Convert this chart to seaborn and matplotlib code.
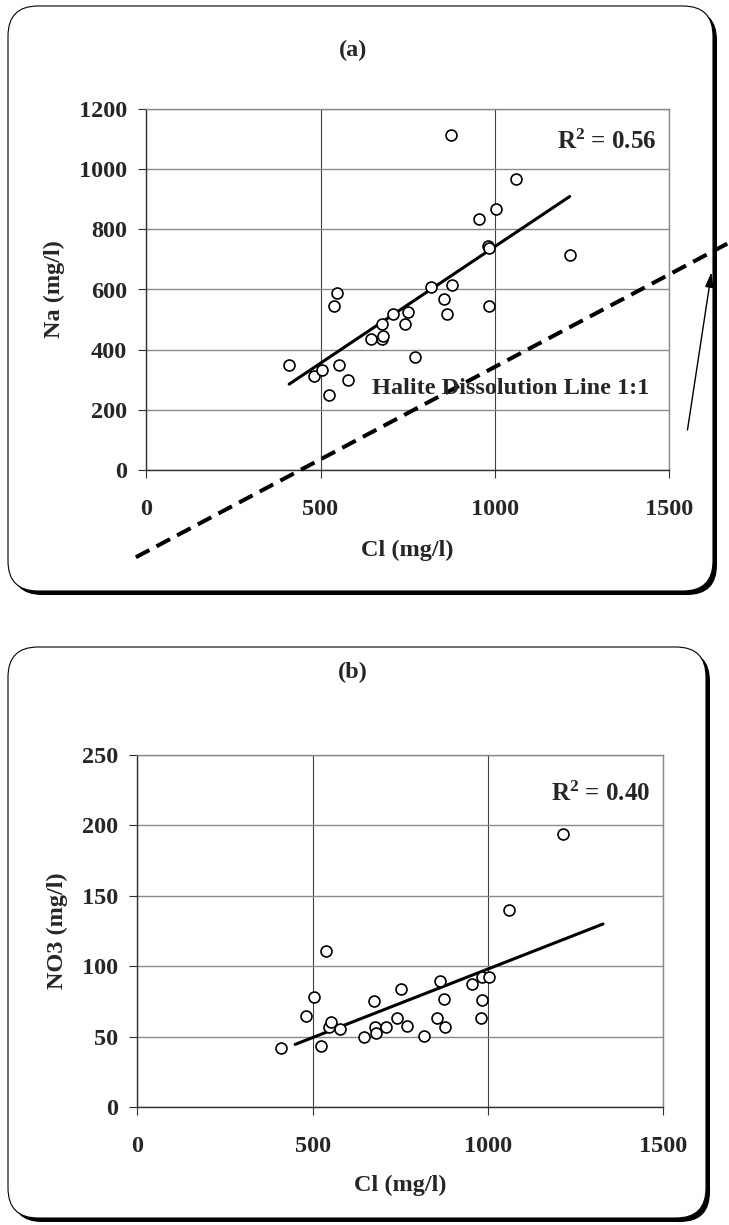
import numpy as np
import matplotlib
matplotlib.use('Agg')
import matplotlib.pyplot as plt
import seaborn as sns
from matplotlib.patches import FancyBboxPatch

# ---------------- data ----------------
cl = [410, 480, 505, 524, 538, 548, 552, 579, 646, 675, 677, 680, 708, 742,
      751, 770, 817, 855, 862, 874, 878, 954, 980, 984, 984, 1004, 1060, 1215]
na = [349, 313, 334, 249, 546, 590, 349, 299, 437, 485, 437, 445, 518, 485,
      524, 376, 607, 568, 518, 1113, 615, 833, 744, 737, 546, 866, 966, 714]
no3 = [42, 64.5, 78, 43, 111, 57, 60, 55, 50, 75, 57, 52.7, 56.5, 63.3,
       83.5, 57.4, 50.4, 63.3, 89.4, 76.4, 56.5, 87, 62.9, 92, 75.9, 92.4, 139.7, 193.6]

halite_x = [-30, 1670]
halite_y = [-290, 754]
arrow_tail = (1553, 133)
arrow_tip = (1622, 658)

x_ticks = [0, 500, 1000, 1500]
na_ticks = [0, 200, 400, 600, 800, 1000, 1200]
no3_ticks = [0, 50, 100, 150, 200, 250]
r2_a = r"R$^{2}$ = 0.56"
r2_b = r"R$^{2}$ = 0.40"
trend_b_x = [450, 1328]

# ---------------- style ----------------
sns.set_style('white')
plt.rcParams['font.family'] = ['Liberation Serif', 'DejaVu Serif']
plt.rcParams['font.weight'] = 'bold'
plt.rcParams['mathtext.fontset'] = 'custom'
plt.rcParams['mathtext.rm'] = 'Liberation Serif:bold'
plt.rcParams['mathtext.it'] = 'Liberation Serif:bold'
plt.rcParams['mathtext.bf'] = 'Liberation Serif:bold'
plt.rcParams['mathtext.default'] = 'rm'
FS = 17.5

W, H = 729, 1225
fig = plt.figure(figsize=(W / 100, H / 100), dpi=100)


def rect(l, t, r, b):
    return [l / W, 1 - b / H, (r - l) / W, (b - t) / H]


def frame(l, t, r, b):
    rs = 0.3
    sh = FancyBboxPatch(((l + 4) / 100, (H - b - 4) / 100), (r - l) / 100, (b - t) / 100,
                        boxstyle=f"round,pad=0,rounding_size={rs}",
                        transform=fig.dpi_scale_trans, facecolor='black',
                        edgecolor='black', lw=0, zorder=-3)
    fr = FancyBboxPatch((l / 100, (H - b) / 100), (r - l) / 100, (b - t) / 100,
                        boxstyle=f"round,pad=0,rounding_size={rs}",
                        transform=fig.dpi_scale_trans, facecolor='white',
                        edgecolor='black', lw=0.8, zorder=-2)
    fig.add_artist(sh)
    fig.add_artist(fr)


frame(8, 6, 713, 591)
frame(8, 647, 706, 1218)


def style_axes(ax, yticks, ylim):
    ax.set_xlim(0, 1500)
    ax.set_ylim(*ylim)
    ax.set_xticks(x_ticks)
    ax.set_yticks(yticks)
    ax.grid(True, axis='y', color='#8a8a8a', lw=1.0)
    ax.grid(True, axis='x', color='#404040', lw=0.8)
    ax.set_axisbelow(True)
    for s in ['top', 'right']:
        ax.spines[s].set_visible(True)
        ax.spines[s].set_color('#8a8a8a')
        ax.spines[s].set_linewidth(1.0)
    for s in ['left', 'bottom']:
        ax.spines[s].set_visible(True)
        ax.spines[s].set_color('#303030')
        ax.spines[s].set_linewidth(1.0)
    ax.tick_params(axis='both', direction='out', length=6, width=0.8,
                   color='#303030', labelsize=FS, left=True, bottom=True)
    ax.tick_params(axis='x', pad=15)
    ax.tick_params(axis='y', pad=8)
    for lab in ax.get_xticklabels() + ax.get_yticklabels():
        lab.set_fontweight('bold')


scat_kws = dict(marker='o', s=62, color='white', edgecolor='black', linewidth=1.2, zorder=4)

# ---------------- panel (a) ----------------
axa = fig.add_axes(rect(146.3, 109, 669, 470))
sns.scatterplot(x=cl, y=na, ax=axa, **scat_kws)
sns.regplot(x=cl, y=na, ax=axa, scatter=False, ci=None, truncate=True,
            line_kws=dict(color='black', lw=2.2, zorder=3))
style_axes(axa, na_ticks, (0, 1200))
axa.plot(halite_x, halite_y, color='black', lw=2.9, linestyle=(0, (3.8, 2.0)),
         clip_on=False, zorder=5)
axa.annotate('', xy=arrow_tip, xytext=arrow_tail, xycoords='data', textcoords='data',
             annotation_clip=False,
             arrowprops=dict(arrowstyle='-|>,head_length=0.9,head_width=0.25',
                             color='black', lw=1.0, shrinkA=0, shrinkB=0))
axa.text(647, 272, 'Halite Dissolution Line 1:1', fontsize=FS, fontweight='bold',
         ha='left', va='center', zorder=6)
axa.text(1464, 1091, r2_a, fontsize=FS + 0.5, fontweight='bold', ha='right', va='center')
axa.set_xlabel('Cl (mg/l)', fontsize=FS, fontweight='bold', labelpad=14)
axa.set_ylabel('Na (mg/l)', fontsize=FS, fontweight='bold', labelpad=10)
fig.text(353 / W, 1 - 50 / H, '(a)', fontsize=FS, fontweight='bold', ha='center', va='center')

# ---------------- panel (b) ----------------
axb = fig.add_axes(rect(137.3, 754.7, 663.3, 1107))
sns.scatterplot(x=cl, y=no3, ax=axb, **scat_kws)
coef = np.polyfit(cl, no3, 1)
xs = np.array(trend_b_x, dtype=float)
sns.lineplot(x=xs, y=np.polyval(coef, xs), ax=axb, color='black', lw=2.2, zorder=3)
style_axes(axb, no3_ticks, (0, 250))
axb.text(1464, 222, r2_b, fontsize=FS + 0.5, fontweight='bold', ha='right', va='center')
axb.set_xlabel('Cl (mg/l)', fontsize=FS, fontweight='bold', labelpad=13)
axb.set_ylabel('NO3 (mg/l)', fontsize=FS, fontweight='bold', labelpad=10)
fig.text(353 / W, 1 - 672 / H, '(b)', fontsize=FS, fontweight='bold', ha='center', va='center')

fig.savefig('out.png', dpi=100)
